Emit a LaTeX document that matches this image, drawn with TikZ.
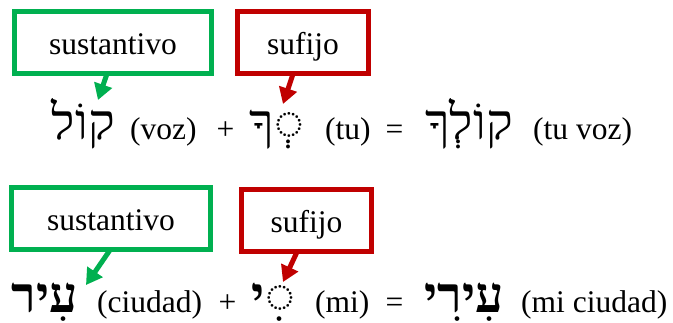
\documentclass[tikz,border=0pt]{standalone}
\usepackage{fontspec}
\setmainfont{Liberation Serif}
\newfontfamily\heb[Script=Hebrew]{Liberation Serif}
\TeXXeTstate=1
\usetikzlibrary{arrows.meta}
\definecolor{grn}{RGB}{0,176,80}
\definecolor{rd}{RGB}{192,0,0}
\begin{document}
\begin{tikzpicture}[x=1pt,y=-1pt,
  lbl/.style={draw, line width=5pt, inner sep=0pt, font=\fontsize{31.5}{36}\selectfont, text height=23pt, text depth=0pt},
  gbox/.style={lbl, draw=grn},
  rbox/.style={lbl, draw=rd},
  lat/.style={inner sep=0pt, font=\fontsize{31.5}{36}\selectfont},
  hw/.style={inner sep=0pt, font=\fontsize{50}{58}\selectfont\heb},
  hwb/.style={inner sep=0pt, font=\fontsize{50}{58}\selectfont\heb\bfseries},
  garrow/.style={grn, line width=5pt, -{Triangle[length=16pt,width=18pt]}},
  rarrow/.style={rd, line width=5pt, -{Triangle[length=16pt,width=18pt]}}]
\useasboundingbox (0,0) rectangle (673,322);
% boxes
\node[gbox, minimum width=197.3pt, minimum height=61.7pt] (B1) at (112.9,42.7) {sustantivo};
\node[rbox, minimum width=131pt, minimum height=62pt] (B2) at (303,42.5) {sufijo};
\node[gbox, minimum width=199pt, minimum height=62pt] (B3) at (111,218.5) {sustantivo};
\node[rbox, minimum width=130pt, minimum height=62pt] (B4) at (306.5,220.5) {sufijo};
% row 1
\node[hw, anchor=base east] (w1) at (115,139) {\beginR קוֹל\endR};
\node[lat, anchor=base west] (g1) at (130,139) {(voz)};
\node[lat, anchor=base] (p1) at (225.5,139) {+};
\node[hw, anchor=base east] (s1) at (304,139) {\beginR ◌ְךָ\endR};
\node[lat, anchor=base west] (g2) at (325,139) {(tu)};
\node[lat, anchor=base] (e1) at (394.5,139) {=};
\node[hw, anchor=base east] (r1) at (513,139) {\beginR קוֹלְךָ\endR};
\node[lat, anchor=base west] (g3) at (533,139) {(tu voz)};
% row 2
\node[hwb, anchor=base east] (w2) at (78,312) {\beginR עִיר\endR};
\node[lat, anchor=base west] (g4) at (97,312) {(ciudad)};
\node[lat, anchor=base] (p2) at (227.5,312) {+};
\node[hwb, anchor=base east] (s2) at (295,312) {\beginR ◌ִי\endR};
\node[lat, anchor=base west] (g5) at (315,312) {(mi)};
\node[lat, anchor=base] (e2) at (394.5,312) {=};
\node[hwb, anchor=base east] (r2) at (504,312) {\beginR עִירִי\endR};
\node[lat, anchor=base west] (g6) at (521,312) {(mi ciudad)};
% arrows
\coordinate (t1) at (98,100);
\coordinate (t2) at (283,104);
\coordinate (t3) at (86,285);
\coordinate (t4) at (283,282);
\draw[garrow] ([xshift=-6pt,yshift=2pt]B1.south) -- (t1);
\draw[rarrow] ([xshift=-10pt,yshift=2pt]B2.south) -- (t2);
\draw[garrow] ([xshift=-1pt,yshift=2pt]B3.south) -- (t3);
\draw[rarrow] ([xshift=-9.5pt,yshift=2pt]B4.south) -- (t4);
\end{tikzpicture}
\end{document}
